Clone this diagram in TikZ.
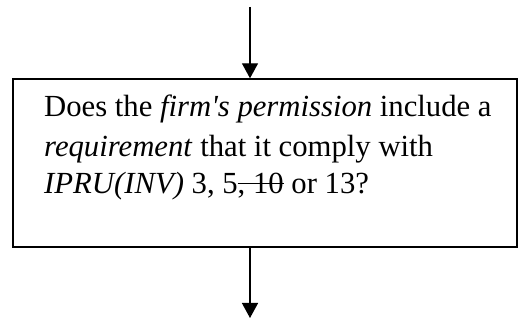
\documentclass[tikz,border=0pt]{standalone}
\usepackage{fontspec}
\setmainfont{Liberation Serif}
\usetikzlibrary{arrows.meta}
\newsavebox\strkbox
\newcommand\strk[1]{\sbox\strkbox{#1}\rlap{\rule[9.5pt]{\wd\strkbox}{1.5pt}}\usebox\strkbox}
\tikzset{
  flowline/.style={line width=1.4pt,-{Triangle[length=15pt,width=16pt]}},
  boxstyle/.style={draw,line width=1.4pt,rectangle,minimum width=504pt,minimum height=168pt,inner sep=0pt},
  txt/.style={anchor=base west,inner sep=0pt,font=\fontsize{30.7}{38}\selectfont}
}
\begin{document}
\begin{tikzpicture}[x=1pt,y=1pt]
\useasboundingbox (0,0) rectangle (529,320);
\node[boxstyle] (box) at (265,157) {};
\coordinate (top) at (250,313);
\coordinate (bot) at (250,2);
\node[txt] (l1) at (44,203.5) {Does the \textit{firm\textquotesingle s permission} include a};
\node[txt] (l2) at (44,163.5) {\textit{requirement} that it comply with};
\node[txt] (l3) at (44,126) {\textit{IPRU(INV)} 3, 5\strk{, 10} or 13?};
\draw[flowline] (top) -- (top |- box.north);
\draw[flowline] (top |- box.south) -- (bot);
\end{tikzpicture}
\end{document}
